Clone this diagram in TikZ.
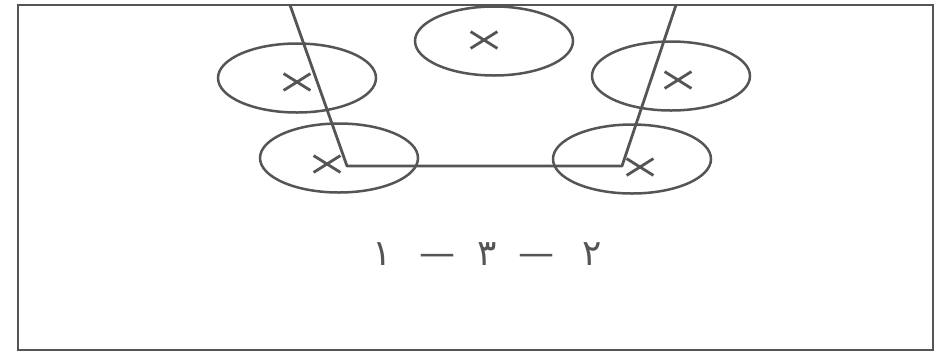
\documentclass[tikz,border=0pt]{standalone}
\usepackage{fontspec}
\newfontfamily\arabicfont[Script=Arabic]{DejaVu Sans}
\TeXXeTstate=1
\usetikzlibrary{shapes.geometric,shapes.misc}
\definecolor{ink}{HTML}{555555}
\begin{document}
\begin{tikzpicture}[x=1pt,y=-1pt,
  line/.style={draw=ink,line width=2.8pt},
  player/.style={ellipse,draw=ink,line width=2.5pt,minimum width=158pt,minimum height=69pt,inner sep=0pt},
  crossmark/.style={cross out,draw=ink,line width=2.8pt,minimum width=24pt,minimum height=14pt,inner sep=0pt}]
\useasboundingbox (0,0) rectangle (936,357);
\fill[white] (0,0) rectangle (936,357);
\draw[line] (18,5) rectangle (933,350);
% players
\node[player] (ptop) at (494,41) {};
\node[player] (plm) at (297,78) {};
\node[player] (plb) at (339,158) {};
\node[player] (prm) at (671,76) {};
\node[player] (prb) at (632,159) {};
% crosses
\node[crossmark] (xtop) at (484,40) {};
\node[crossmark] (xlm) at (297,82) {};
\node[crossmark] (xlb) at (327,164) {};
\node[crossmark] (xrm) at (678,80) {};
\node[crossmark] (xrb) at (640,167) {};
% lines
\coordinate (lt) at (290,5);
\coordinate (lc) at (347,166);
\coordinate (rc) at (622,166);
\coordinate (rt) at (676,5);
\draw[line,line join=round] (lt) -- (lc) -- (rc) -- (rt);
% caption
\node[text=ink,font=\arabicfont\fontsize{36}{42}\selectfont] (cap) at (487,254)
  {\beginR ٢\hspace{28pt}—\hspace{22pt}٣\hspace{22pt}—\hspace{28pt}١\endR};
\end{tikzpicture}
\end{document}
